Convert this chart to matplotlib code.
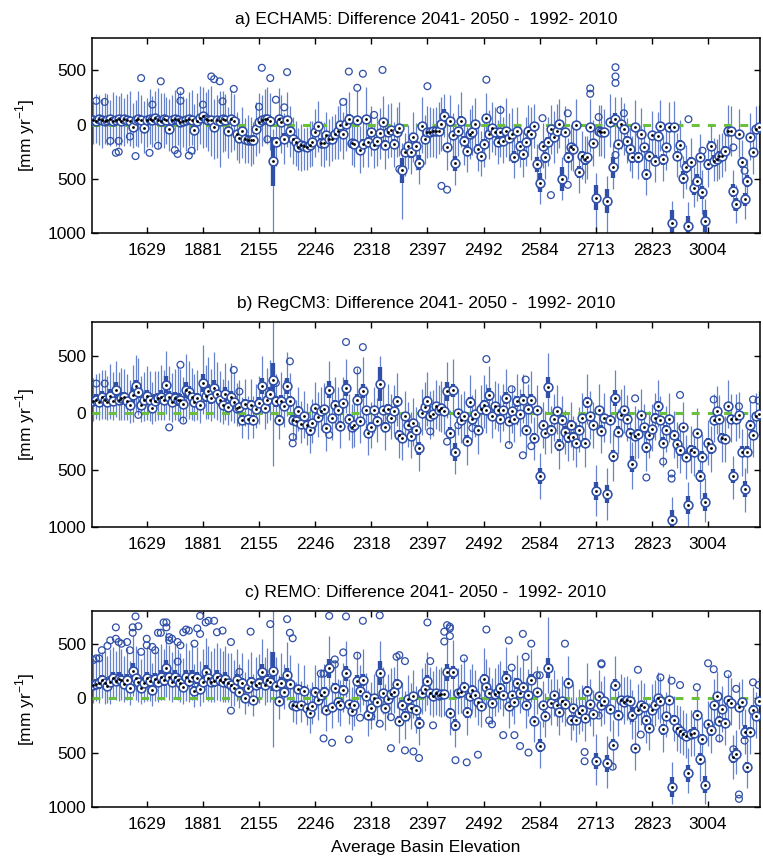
import matplotlib
matplotlib.use("Agg")
import matplotlib.pyplot as plt
import numpy as np

plt.rcParams['font.family'] = ['Liberation Sans', 'DejaVu Sans']
plt.rcParams['mathtext.fontset'] = 'custom'
plt.rcParams['mathtext.rm'] = 'Liberation Sans'

# basin positions 1..238, ticks every 20 basins
tick_pos = [20, 40, 60, 80, 100, 120, 140, 160, 180, 200, 220]
tick_lab = ['1629', '1881', '2155', '2246', '2318', '2397', '2492', '2584', '2713', '2823', '3004']
ytick_pos = [500, 0, -500, -1000]
ytick_lab = ['500', '0', '500', '1000']

titles = ['a) ECHAM5: Difference 2041- 2050 -  1992- 2010',
          'b) RegCM3: Difference 2041- 2050 -  1992- 2010',
          'c) REMO: Difference 2041- 2050 -  1992- 2010']

# ---------------- a) ECHAM5 ----------------
med_a = [40, 30, 50, 40, 30, 40, 50, 30, 40, 50, 30, 50, 40, 30, -20, 40, 50, 40, -35, 40,
         50, 40, 60, 40, 30, 50, 45, -40, 40, 50, 40, 20, 30, 40, 50, 40, -50, 30, 60, 80,
         50, 40, 40, -20, 40, 30, 50, 40, -55, 50, 30, -85, -120, -60, -130, -140, -140, -140, -40, 20,
         40, 50, 50, 30, -340, -160, 50, 20, -130, 45, -55, -130, -160, -210, -190, -200, -210, -190, -160, -70,
         -10, -170, -170, -100, -130, -130, -90, -60, 0, -90, 10, 50, -170, -180, 40, -230, -180, 50, -160, -70,
         -190, -150, -80, 20, -185, -70, -50, -180, -70, -30, -420, -256, -200, -256, -117, -194, -350, -9, -133, -70,
         -70, -55, -55, -55, 6, 83, -210, 30, -100, -358, -55, 37, -148, -240, -90, -71, 6, -225, -287, -179,
         62, -86, -30, -71, -163, -71, -148, -55, -120, -86, -302, -55, -194, -272, -163, -62, -86, -9, -364, -534,
         -194, -302, -163, -40, -117, -55, 6, -503, -71, -302, -210, -225, 0, -441, -287, -318, -302, -25, -173, -673,
         -55, -71, -71, -704, 22, -395, 52, -179, 9, -40, -148, -225, -302, -19, -302, -86, -210, -457, -287, -100,
         -333, -102, -9, -318, -210, -25, -904, -25, -287, -185, -488, -395, -935, -349, -580, -519, -302, -626, -889, -364,
         -194, -333, -318, -287, -287, -240, -55, -55, -611, -734, -86, -349, -688, -519, -117, -256, -40, -20]
iqr_a = [25, 30, 25, 30, 35, 25, 30, 25, 30, 35, 30, 25, 30, 35, 40, 30, 25, 30, 40, 30,
         30, 25, 35, 30, 40, 25, 30, 45, 30, 25, 35, 30, 30, 25, 35, 30, 45, 30, 40, 35,
         30, 25, 30, 40, 30, 35, 30, 25, 45, 30, 35, 40, 45, 35, 40, 35, 30, 45, 40, 30,
         30, 35, 30, 40, 230, 45, 40, 30, 50, 35, 40, 45, 40, 45, 40, 35, 40, 45, 40, 40,
         35, 45, 40, 40, 45, 35, 40, 35, 30, 40, 35, 45, 40, 45, 40, 50, 45, 40, 45, 35,
         45, 40, 35, 30, 40, 35, 30, 45, 35, 30, 115, 45, 40, 50, 35, 45, 70, 30, 40, 35,
         35, 30, 30, 30, 30, 60, 45, 30, 40, 70, 35, 40, 45, 50, 35, 35, 30, 45, 50, 45,
         40, 35, 30, 35, 45, 35, 40, 30, 35, 35, 55, 30, 45, 50, 40, 30, 35, 30, 70, 85,
         40, 50, 45, 30, 35, 30, 30, 110, 35, 50, 40, 45, 30, 55, 45, 50, 45, 30, 40, 115,
         30, 35, 30, 110, 30, 100, 60, 40, 30, 30, 40, 45, 50, 30, 50, 35, 45, 50, 45, 35,
         50, 35, 30, 50, 40, 30, 120, 30, 45, 40, 60, 55, 90, 50, 65, 60, 45, 60, 100, 50,
         40, 50, 45, 45, 45, 40, 30, 30, 60, 60, 35, 50, 60, 55, 35, 45, 30, 30]
wu_a = [180, 250, 220, 200, 260, 240, 180, 270, 230, 210, 260, 200, 240, 280, 220, 190, 260, 230, 250, 210,
        280, 220, 250, 300, 260, 240, 210, 280, 230, 270, 250, 290, 230, 210, 250, 280, 240, 260, 300, 270,
        250, 290, 320, 260, 230, 280, 260, 240, 220, 270, 250, 200, 180, 220, 190, 230, 210, 160, 250, 270,
        230, 280, 300, 260, 300, 220, 290, 250, 240, 260, 230, 200, 190, 180, 200, 170, 190, 220, 190, 210,
        230, 200, 190, 220, 180, 210, 190, 230, 200, 210, 240, 250, 220, 230, 270, 220, 210, 300, 220, 240,
        200, 220, 230, 240, 210, 260, 250, 200, 230, 240, 250, 180, 200, 190, 230, 210, 200, 260, 220, 240,
        230, 210, 220, 260, 250, 200, 220, 240, 210, 230, 250, 260, 210, 220, 230, 250, 240, 210, 230, 200,
        230, 220, 240, 230, 210, 250, 220, 300, 230, 240, 200, 220, 190, 200, 230, 240, 250, 200, 190, 220,
        210, 190, 230, 220, 240, 250, 230, 200, 240, 180, 210, 220, 240, 200, 230, 210, 200, 260, 220, 230,
        240, 250, 220, 230, 260, 220, 200, 230, 250, 240, 210, 190, 200, 250, 220, 240, 210, 200, 190, 230,
        200, 220, 240, 210, 200, 230, 200, 240, 210, 230, 200, 210, 220, 230, 190, 200, 220, 210, 200, 220,
        200, 210, 190, 200, 210, 220, 240, 230, 190, 180, 230, 210, 190, 200, 220, 200, 210, 200]
wd_a = [220, 200, 240, 260, 210, 230, 250, 200, 240, 260, 220, 250, 210, 230, 200, 240, 260, 210, 230, 250,
        230, 250, 210, 260, 240, 270, 220, 200, 250, 270, 230, 260, 240, 280, 250, 230, 220, 260, 240, 300,
        260, 280, 330, 300, 350, 420, 300, 280, 250, 300, 260, 240, 230, 250, 220, 210, 240, 220, 250, 280,
        240, 220, 230, 260, 800, 220, 250, 280, 230, 250, 240, 230, 220, 210, 240, 220, 210, 200, 220, 230,
        240, 210, 220, 230, 250, 210, 230, 260, 240, 230, 250, 260, 200, 210, 270, 220, 210, 250, 230, 220,
        210, 230, 240, 250, 220, 240, 250, 210, 230, 260, 450, 220, 210, 200, 230, 220, 200, 250, 230, 240,
        230, 240, 250, 220, 250, 200, 210, 240, 230, 200, 230, 240, 220, 200, 230, 210, 240, 200, 190, 210,
        240, 230, 220, 210, 200, 230, 210, 240, 220, 230, 190, 220, 200, 210, 220, 230, 240, 210, 220, 200,
        210, 200, 220, 230, 240, 210, 220, 190, 230, 200, 210, 200, 230, 190, 210, 220, 200, 230, 210, 300,
        230, 220, 240, 300, 230, 200, 210, 220, 230, 240, 210, 200, 190, 230, 200, 220, 210, 190, 200, 220,
        200, 210, 230, 200, 210, 230, 200, 220, 200, 210, 190, 200, 150, 200, 180, 190, 210, 200, 150, 210,
        200, 190, 200, 210, 200, 190, 220, 230, 180, 170, 210, 190, 180, 200, 210, 200, 210, 200]
out_a = [(2, 220), (5, 210), (7, -150), (9, -260), (10, -250), (10, -150), (14, -110), (16, -290),
         (18, 430), (21, -260), (22, 185), (24, -195), (25, 400), (30, -235), (31, -270), (32, 220),
         (32, 310), (35, -285), (36, -240), (40, 185), (43, 445), (44, 420), (46, 400), (47, 215),
         (51, 330), (60, 165), (61, 525), (64, 430), (63, -135), (66, 230), (69, 160), (70, 485),
         (90, 210), (92, 490), (95, 340), (97, 470), (101, 90), (104, 505), (110, -410), (120, 355),
         (125, -565), (127, -600), (141, 415), (146, 135), (161, 60), (164, -650), (170, 105),
         (170, -555), (178, 335), (178, 285), (181, 70), (187, 530), (187, 445), (187, 385),
         (187, -280), (190, 105), (213, 50), (218, -240), (229, -210), (233, -425)]

# ---------------- b) RegCM3 ----------------
med_b = [110, 120, 100, 140, 120, 100, 150, 110, 200, 120, 130, 140, 110, 68, 160, 235, 188, 74, 120, 147,
         120, 44, 109, 130, 141, 120, 250, 141, 100, 130, 120, 118, 79, 206, 182, 140, 100, 130, 74, 265,
         150, 191, 130, 220, 170, 120, 74, 170, 53, 141, 100, 44, 53, -59, 80, -53, 74, -59, 40, 88,
         241, 44, 120, 170, 294, 103, -59, 103, 60, 235, 103, -59, -73, 20, -94, -29, -103, -147, -88, 44,
         -30, 20, 35, -132, 206, -44, 74, 29, -112, 88, 220, -50, -123, -100, 118, -73, 197, 29, -170, -118,
         24, -65, 256, 24, -123, 40, -44, 20, 103, -191, -220, -29, -100, -200, -88, -147, -309, 0, 50, 103,
         -29, -10, 60, 29, 44, 20, 191, -170, 200, -338, 0, -60, -29, -241, 94, -50, -10, -147, 40, 74,
         30, 162, -29, 60, 29, -53, 29, 132, -73, 20, -53, 103, -10, 118, -147, 35, 118, -220, 29, -553,
         -103, -170, 226, -147, -53, 20, -279, -60, -162, -212, -103, -212, -259, -147, -40, -265, 94, -29, -103, -682,
         29, -153, -40, -711, -60, -376, 132, -162, -20, 29, -53, -176, -450, -200, -182, -20, -123, -300, -191, -141,
         -40, 65, -60, -259, -147, -53, -940, -191, -270, -323, -123, -382, -808, -323, -338, -176, -553, -382, -779, -259,
         -309, -59, 20, -53, -220, -229, 60, -53, -553, -53, -20, -338, -670, -338, -103, -191, -29, -6]
iqr_b = [45, 50, 40, 55, 50, 45, 60, 45, 70, 50, 55, 50, 45, 40, 70, 60, 55, 45, 50, 60,
         50, 40, 55, 50, 60, 50, 75, 55, 50, 60, 55, 50, 45, 70, 60, 55, 45, 50, 40, 75,
         55, 65, 50, 70, 60, 55, 45, 60, 40, 55, 50, 40, 45, 40, 45, 40, 45, 40, 45, 50,
         70, 40, 50, 60, 150, 50, 40, 55, 45, 70, 50, 40, 40, 40, 45, 40, 45, 50, 40, 40,
         35, 40, 40, 45, 75, 40, 45, 35, 45, 40, 70, 40, 45, 40, 50, 40, 60, 35, 45, 40,
         40, 40, 150, 35, 45, 40, 40, 35, 50, 45, 45, 40, 35, 45, 40, 45, 60, 35, 40, 50,
         40, 35, 40, 35, 40, 35, 80, 45, 60, 80, 35, 40, 35, 50, 45, 40, 35, 45, 40, 45,
         40, 55, 35, 40, 35, 40, 35, 55, 40, 35, 40, 50, 35, 50, 45, 35, 50, 45, 35, 70,
         40, 45, 90, 45, 35, 35, 50, 40, 45, 50, 40, 45, 50, 40, 35, 45, 45, 35, 40, 80,
         35, 45, 35, 80, 40, 50, 70, 45, 35, 35, 35, 45, 70, 45, 45, 35, 40, 50, 45, 40,
         40, 40, 35, 50, 40, 35, 90, 45, 50, 50, 40, 50, 80, 45, 50, 40, 55, 50, 80, 45,
         50, 35, 35, 40, 45, 45, 35, 35, 60, 35, 35, 50, 70, 50, 40, 45, 35, 35]
wu_b = [200, 220, 250, 240, 260, 230, 280, 250, 260, 240, 270, 250, 230, 220, 260, 280, 300, 250, 240, 270,
        250, 230, 260, 240, 280, 260, 300, 270, 250, 260, 290, 270, 240, 310, 280, 260, 240, 250, 230, 330,
        270, 300, 260, 320, 280, 250, 230, 270, 240, 300, 260, 220, 240, 200, 220, 200, 230, 210, 220, 240,
        260, 230, 280, 300, 550, 240, 220, 260, 230, 300, 250, 200, 190, 210, 200, 220, 190, 200, 210, 230,
        220, 210, 230, 200, 250, 210, 240, 200, 210, 230, 260, 220, 200, 210, 280, 220, 300, 210, 200, 220,
        210, 200, 250, 230, 200, 220, 210, 230, 250, 200, 190, 220, 200, 210, 220, 200, 230, 210, 220, 260,
        220, 210, 230, 220, 240, 210, 260, 200, 280, 220, 210, 230, 220, 200, 240, 210, 220, 200, 210, 260,
        230, 250, 210, 220, 240, 210, 230, 260, 200, 220, 210, 240, 220, 230, 200, 220, 250, 190, 220, 200,
        200, 190, 300, 210, 220, 230, 200, 210, 190, 220, 200, 190, 180, 200, 220, 190, 250, 220, 200, 230,
        230, 200, 220, 230, 210, 200, 250, 200, 230, 220, 210, 190, 200, 260, 220, 230, 200, 190, 210, 220,
        220, 230, 210, 200, 210, 230, 200, 210, 190, 200, 220, 190, 200, 210, 200, 220, 190, 200, 210, 200,
        200, 230, 220, 210, 190, 200, 230, 220, 180, 220, 210, 200, 190, 200, 220, 200, 210, 200]
wd_b = [180, 170, 160, 190, 170, 160, 200, 170, 230, 180, 190, 200, 170, 150, 240, 220, 200, 150, 190, 210,
        190, 140, 180, 190, 200, 180, 260, 200, 180, 190, 190, 180, 160, 240, 230, 200, 170, 190, 160, 270,
        200, 240, 200, 260, 230, 200, 170, 230, 160, 210, 190, 160, 170, 160, 190, 170, 180, 160, 170, 180,
        250, 180, 210, 230, 760, 190, 170, 200, 180, 260, 200, 170, 160, 180, 170, 190, 180, 200, 170, 190,
        180, 170, 190, 200, 220, 190, 200, 180, 190, 200, 220, 190, 180, 200, 210, 190, 230, 180, 200, 190,
        200, 190, 260, 190, 200, 190, 180, 200, 220, 200, 190, 210, 200, 190, 200, 210, 200, 190, 200, 220,
        200, 190, 200, 190, 210, 200, 230, 200, 220, 200, 190, 200, 190, 210, 200, 190, 200, 210, 190, 200,
        200, 210, 190, 200, 190, 200, 190, 220, 200, 190, 200, 210, 190, 200, 210, 190, 200, 190, 200, 200,
        200, 190, 230, 200, 190, 200, 210, 190, 200, 210, 190, 200, 210, 190, 200, 210, 190, 200, 200, 220,
        190, 200, 210, 230, 200, 220, 210, 200, 190, 200, 190, 210, 220, 200, 210, 190, 200, 210, 200, 190,
        200, 190, 200, 210, 190, 200, 100, 200, 210, 200, 190, 200, 180, 200, 210, 190, 200, 210, 180, 200,
        210, 190, 200, 190, 210, 200, 190, 200, 200, 190, 200, 210, 200, 190, 200, 190, 200, 190]
out_b = [(2, 260), (5, 260), (17, -15), (28, -125), (32, 425), (33, -65), (51, 380), (53, 190),
         (66, 265), (71, 455), (72, -210), (72, -265), (85, -190), (91, 625), (95, 375), (97, 580),
         (105, -120), (121, -160), (127, -250), (131, -105), (136, -130), (141, 475), (149, -280),
         (150, 210), (154, -370), (155, 295), (157, -290), (194, 130), (198, -565), (204, -425),
         (207, -530), (207, -575), (210, 160), (222, 120), (231, 60), (236, 120), (238, 110)]

# ---------------- c) REMO ----------------
med_c = [121, 130, 136, 167, 140, 115, 150, 188, 160, 176, 170, 130, 170, 91, 248, 182, 150, 97, 140, 182,
         160, 76, 176, 150, 197, 170, 273, 197, 150, 197, 170, 140, 106, 197, 160, 197, 67, 182, 85, 150,
         236, 182, 150, 160, 197, 170, 150, 176, 140, 120, 91, 170, 60, 140, 0, 97, 150, -15, 120, 136,
         242, 121, 167, 150, 248, 115, -30, 140, 60, 212, 127, -60, -76, 80, -60, 67, -91, -136, -76, 60,
         -20, 30, 60, -106, 273, -85, 91, -40, -67, 76, 227, -50, -115, -60, 158, 67, 167, 15, -152, -91,
         0, -36, 227, 45, -91, -6, 36, 60, 127, -212, -60, -167, -6, -91, 20, -106, -227, 45, 80, 158,
         45, 20, 45, 24, 36, 36, 236, -136, 236, -248, 45, 60, 106, -130, 20, 76, 24, -40, -76, 176,
         106, 50, -45, 36, 60, 97, 24, 188, -76, 30, -36, 136, 50, 106, -67, 24, 167, -212, 55, -439,
         -67, -167, 279, -45, 24, -60, -127, -30, -55, 136, -197, -91, -197, -136, -106, -182, 67, -55, -145, -576,
         15, -60, -30, -600, -100, -430, 121, -151, -15, -40, -15, -30, -151, -460, -106, -60, -85, -200, -273, -106,
         -60, 0, -30, -288, -167, -15, -818, -197, -273, -303, -333, -348, -691, -333, -318, -152, -560, -379, -794, -242,
         -297, -67, 20, -212, -100, -227, -15, -45, -539, -509, -85, -40, -309, -636, -309, -106, -167, -25]
iqr_c = [40, 45, 50, 45, 50, 40, 55, 50, 45, 60, 55, 50, 55, 40, 70, 55, 50, 40, 50, 60,
         55, 40, 55, 50, 60, 55, 80, 60, 50, 60, 55, 50, 45, 65, 55, 60, 40, 55, 40, 55,
         70, 60, 50, 55, 60, 55, 50, 60, 45, 50, 40, 55, 40, 45, 35, 40, 45, 35, 45, 50,
         70, 45, 55, 50, 180, 45, 40, 50, 40, 60, 45, 35, 40, 40, 35, 40, 40, 45, 40, 40,
         35, 40, 45, 40, 90, 35, 45, 35, 40, 45, 70, 35, 40, 35, 50, 40, 55, 35, 45, 40,
         35, 40, 110, 40, 40, 35, 40, 40, 50, 45, 40, 45, 35, 40, 40, 45, 55, 35, 40, 50,
         40, 35, 40, 35, 40, 35, 80, 45, 60, 55, 35, 40, 45, 50, 35, 40, 35, 40, 40, 50,
         45, 40, 35, 40, 40, 45, 35, 60, 40, 35, 40, 50, 40, 45, 40, 35, 50, 45, 35, 60,
         40, 45, 90, 40, 35, 35, 45, 35, 40, 45, 45, 40, 45, 40, 40, 45, 45, 35, 40, 75,
         35, 40, 35, 75, 40, 50, 55, 45, 35, 35, 35, 40, 65, 40, 40, 35, 40, 45, 50, 40,
         40, 35, 35, 50, 40, 35, 90, 45, 50, 50, 45, 50, 75, 45, 50, 40, 55, 50, 80, 45,
         50, 35, 40, 45, 40, 45, 35, 35, 55, 50, 35, 40, 65, 50, 40, 45, 35, 35]
wu_c = [250, 270, 280, 260, 290, 270, 300, 280, 270, 300, 280, 260, 290, 250, 330, 300, 280, 260, 270, 300,
        280, 250, 290, 270, 300, 280, 330, 290, 270, 300, 280, 270, 260, 310, 280, 300, 250, 290, 260, 300,
        320, 300, 280, 300, 310, 290, 280, 300, 270, 290, 260, 280, 250, 270, 240, 260, 270, 240, 260, 270,
        300, 260, 290, 280, 600, 260, 240, 270, 250, 300, 270, 230, 220, 240, 220, 240, 220, 230, 220, 240,
        230, 240, 250, 220, 300, 230, 260, 220, 230, 250, 300, 230, 220, 230, 270, 240, 280, 220, 230, 240,
        220, 230, 300, 240, 220, 230, 240, 230, 260, 220, 210, 230, 220, 230, 240, 220, 250, 230, 240, 270,
        240, 230, 250, 240, 250, 230, 300, 220, 300, 240, 230, 250, 260, 220, 250, 240, 230, 220, 230, 280,
        250, 240, 230, 240, 250, 240, 230, 280, 220, 240, 230, 260, 240, 250, 220, 240, 280, 220, 240, 230,
        220, 210, 470, 220, 230, 240, 220, 230, 220, 250, 210, 220, 210, 220, 230, 210, 260, 230, 220, 250,
        240, 220, 230, 250, 220, 230, 270, 220, 240, 230, 220, 210, 230, 260, 240, 230, 220, 210, 230, 240,
        230, 240, 220, 230, 220, 240, 230, 220, 210, 230, 220, 210, 230, 220, 210, 230, 220, 210, 230, 220,
        210, 240, 230, 220, 210, 230, 240, 230, 200, 220, 230, 220, 210, 220, 230, 210, 220, 210]
wd_c = [170, 160, 180, 170, 190, 160, 200, 190, 180, 200, 190, 170, 190, 150, 230, 200, 190, 150, 180, 210,
        190, 150, 200, 190, 210, 190, 260, 210, 190, 200, 190, 180, 160, 220, 200, 210, 150, 200, 160, 190,
        230, 210, 190, 200, 210, 200, 190, 210, 180, 190, 160, 200, 150, 180, 150, 170, 180, 150, 170, 180,
        230, 180, 200, 190, 700, 180, 160, 190, 160, 230, 190, 160, 160, 170, 160, 170, 160, 180, 160, 170,
        180, 170, 190, 200, 220, 190, 200, 180, 190, 200, 220, 190, 180, 200, 210, 190, 230, 180, 200, 190,
        200, 190, 260, 190, 200, 190, 180, 200, 220, 200, 190, 210, 200, 190, 200, 210, 200, 190, 200, 220,
        200, 190, 200, 190, 210, 200, 230, 200, 220, 200, 190, 200, 190, 210, 200, 190, 200, 210, 190, 200,
        200, 210, 190, 200, 190, 200, 190, 220, 200, 190, 200, 210, 190, 200, 210, 190, 200, 190, 200, 200,
        200, 190, 230, 200, 190, 200, 210, 190, 200, 210, 190, 200, 210, 190, 200, 210, 190, 200, 200, 220,
        190, 200, 210, 230, 200, 220, 210, 200, 190, 200, 190, 210, 220, 200, 210, 190, 200, 210, 200, 190,
        200, 190, 200, 210, 190, 200, 150, 200, 210, 200, 190, 200, 180, 200, 210, 190, 200, 210, 180, 200,
        210, 190, 200, 190, 210, 200, 190, 200, 200, 190, 200, 210, 200, 190, 200, 190, 200, 190]
out_c = [(1, 350), (2, 365), (3, 365), (4, 440), (6, 480), (7, 530), (9, 545), (9, 650), (10, 515),
         (11, 500), (13, 515), (14, 440), (15, 650), (15, 600), (16, 750), (17, 660), (18, 425),
         (20, 545), (20, 485), (22, 470), (23, 440), (24, 600), (25, 600), (26, 695), (27, 695),
         (27, 650), (28, 560), (28, 530), (29, 545), (31, 515), (32, 485), (33, 605), (34, 630),
         (35, 620), (37, 500), (38, 640), (39, 590), (39, 755), (41, 695), (42, 710), (44, 710),
         (45, 605), (47, 620), (50, 515), (53, 240), (57, 610), (64, 680), (70, 725), (71, 600),
         (72, 550), (50, -115), (31, 335),
         (85, 755), (91, 750), (97, 710), (103, 760), (120, 695), (127, 670), (128, 655), (128, 640),
         (128, 570), (126, 610), (126, 520), (141, 630), (149, 530), (154, 590), (157, 500), (155, 380),
         (150, 280), (133, 365), (121, 340), (112, 340), (109, 380), (110, 395), (95, 390), (90, 420),
         (87, 355), (87, 310), (82, 225), (83, 225), (83, -370), (86, -410), (92, -380), (107, -460),
         (112, -480), (115, -490), (117, -550), (122, -250), (130, -570), (134, -590), (138, -520),
         (142, -205), (143, -240), (147, -340), (151, -340), (153, -440), (156, -500), (103, -235),
         (96, -180), (100, -170), (107, -175),
         (159, 210), (160, 210), (169, 500), (182, 320), (182, 310), (195, 260), (203, 190), (207, 160),
         (210, 120), (216, 100), (220, 320), (222, 265), (227, 220), (230, 85), (236, 145), (238, 120),
         (176, -495), (176, -580), (186, -630), (181, -160), (196, -335), (224, -370), (229, -470),
         (231, -885), (231, -925), (233, -390)]

panels = [(med_a, iqr_a, wu_a, wd_a, out_a),
          (med_b, iqr_b, wu_b, wd_b, out_b),
          (med_c, iqr_c, wu_c, wd_c, out_c)]

BOX = '#2f4fa8'
WHISK = '#6682cc'
GREEN = '#6abf3c'

fig = plt.figure(figsize=(7.63, 8.63), dpi=100)
# axes boxes in figure fractions (left, bottom, width, height)
rects = [[0.1206, 0.7300, 0.8755, 0.2260],
         [0.1206, 0.3893, 0.8755, 0.2375],
         [0.1206, 0.0649, 0.8755, 0.2271]]

for k, (med, iqr, wu, wd, outl) in enumerate(panels):
    ax = fig.add_axes(rects[k])
    med = np.array(med, float)
    iqr = np.array(iqr, float)
    wu = np.array(wu, float)
    wd = np.array(wd, float)
    x = np.arange(1, len(med) + 1)

    # whiskers, boxes
    ax.vlines(x, med - wd, med + wu, color=WHISK, lw=0.9, zorder=1)
    ax.vlines(x, med - iqr, med + iqr, color=BOX, lw=3.1, zorder=2)
    # zero line
    ax.axhline(0, color=GREEN, lw=2.2, ls=(0, (2.6, 2.7)), zorder=3)
    # outliers
    ox = [p[0] for p in outl]
    oy = [p[1] for p in outl]
    ax.scatter(ox, oy, s=24, facecolors='none', edgecolors=BOX, linewidths=0.9, zorder=4)
    # medians
    ax.scatter(x, med, s=40, facecolors='white', edgecolors=BOX, linewidths=1.15, zorder=5)
    ax.scatter(x, med, s=4, color='black', linewidths=0, zorder=6)

    ax.set_xlim(0.5, 238.5)
    ax.set_ylim(-1000, 800)
    ax.set_xticks(tick_pos)
    ax.set_xticklabels(tick_lab)
    ax.set_yticks(ytick_pos)
    ax.set_yticklabels(ytick_lab)
    ax.tick_params(direction='in', length=4, width=1, top=True, right=True,
                   labelsize=12.5, colors='black')
    ax.tick_params(axis='x', pad=7)
    ax.tick_params(axis='y', pad=4)
    for s in ax.spines.values():
        s.set_linewidth(1.1)
    ax.set_title(titles[k], fontsize=12.5, pad=10)
    ax.set_ylabel(r'[mm yr$^{\mathregular{-1}}$]', fontsize=12.5, labelpad=8)
    if k == 2:
        ax.set_xlabel('Average Basin Elevation', fontsize=12.5, labelpad=6)

fig.savefig('out.png', dpi=100)
